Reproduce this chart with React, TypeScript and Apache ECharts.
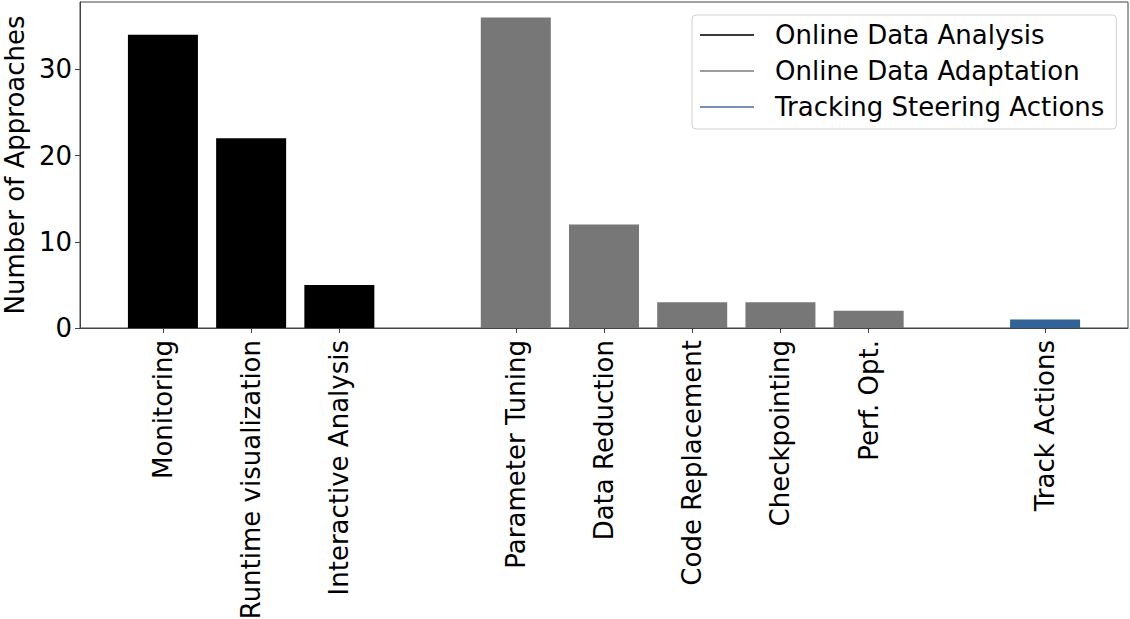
import React, { useEffect, useRef } from "react";
import * as echarts from "echarts";

const categories = [
  "Monitoring",
  "Runtime visualization",
  "Interactive Analysis",
  "",
  "Parameter Tuning",
  "Data Reduction",
  "Code Replacement",
  "Checkpointing",
  "Perf. Opt.",
  "",
  "Track Actions",
];
const analysisPos = [0, 1, 2];
const analysisVals = [34, 22, 5];
const adaptPos = [4, 5, 6, 7, 8];
const adaptVals = [36, 12, 3, 3, 2];
const trackPos = [10];
const trackVals = [1];
const labelPositions = [0, 1, 2, 4, 5, 6, 7, 8, 10];
const yTicks = [0, 10, 20, 30];

const seriesNames = ["Online Data Analysis", "Online Data Adaptation", "Tracking Steering Actions"];
const barColors = ["#000000", "#777777", "#2f6399"];
const legendColors = ["#3a3a3a", "#9e9e9e", "#6f92bf"];

const FONT = "DejaVu Sans";
const FS = 26;

export default function App() {
  const ref = useRef<HTMLDivElement>(null);
  useEffect(() => {
    if (!ref.current) return;
    const chart = echarts.init(ref.current, null, { renderer: "svg" });
    const mk = (pos: number[], vals: number[]) => pos.map((p, i) => [p, vals[i]]);
    const lineIcon = "path://M0,0H54V2H0Z";
    chart.setOption({
      animation: false,
      backgroundColor: "#ffffff",
      grid: {
        left: 80,
        right: 2,
        top: 2,
        bottom: 291,
        containLabel: false,
        outerBoundsMode: "none",
        show: true,
        borderColor: "#444444",
        borderWidth: 1,
        backgroundColor: "transparent",
      },
      legend: {
        left: 692,
        top: 15,
        orient: "vertical",
        padding: [7, 12, 9, 8],
        itemGap: 10,
        itemWidth: 54,
        itemHeight: 2,
        backgroundColor: "#ffffff",
        borderColor: "#d0d0d0",
        borderWidth: 1,
        borderRadius: 4,
        textStyle: { fontFamily: FONT, fontSize: FS, color: "#000000", padding: [0, 0, 0, 16] },
        data: seriesNames.map((n, i) => ({ name: n, icon: lineIcon, itemStyle: { color: legendColors[i] } })),
      },
      xAxis: {
        type: "value",
        min: -0.94,
        max: 10.94,
        splitLine: { show: false },
        axisLine: { show: true, onZero: false, lineStyle: { color: "#444444", width: 1 } },
        axisTick: {
          show: true,
          customValues: labelPositions,
          length: 5,
          lineStyle: { color: "#444444" },
        },
        axisLabel: {
          customValues: labelPositions,
          rotate: 90,
          margin: 12,
          fontFamily: FONT,
          fontSize: FS,
          color: "#000000",
          formatter: (v: number) => categories[Math.round(v)] ?? "",
        },
      },
      yAxis: {
        type: "value",
        min: 0,
        max: 37.8,
        interval: 10,
        splitLine: { show: false },
        axisLine: { show: true, onZero: false, lineStyle: { color: "#444444", width: 1 } },
        axisTick: { show: true, customValues: yTicks, length: 5, lineStyle: { color: "#444444" } },
        axisLabel: {
          customValues: yTicks,
          margin: 8,
          fontFamily: FONT,
          fontSize: FS,
          color: "#000000",
        },
        name: "Number of Approaches",
        nameLocation: "middle",
        nameGap: 41,
        nameTextStyle: { fontFamily: FONT, fontSize: FS, color: "#000000" },
      },
      series: [
        { name: seriesNames[0], type: "bar", data: mk(analysisPos, analysisVals), barWidth: 70, barGap: "-100%", itemStyle: { color: barColors[0] } },
        { name: seriesNames[1], type: "bar", data: mk(adaptPos, adaptVals), barWidth: 70, barGap: "-100%", itemStyle: { color: barColors[1] } },
        { name: seriesNames[2], type: "bar", data: mk(trackPos, trackVals), barWidth: 70, barGap: "-100%", itemStyle: { color: barColors[2] } },
      ],
    });
    return () => chart.dispose();
  }, []);
  return (
    <div
      ref={ref}
      style={{ position: "fixed", left: 0, top: 0, width: 1130, height: 619, background: "#fff" }}
    />
  );
}
